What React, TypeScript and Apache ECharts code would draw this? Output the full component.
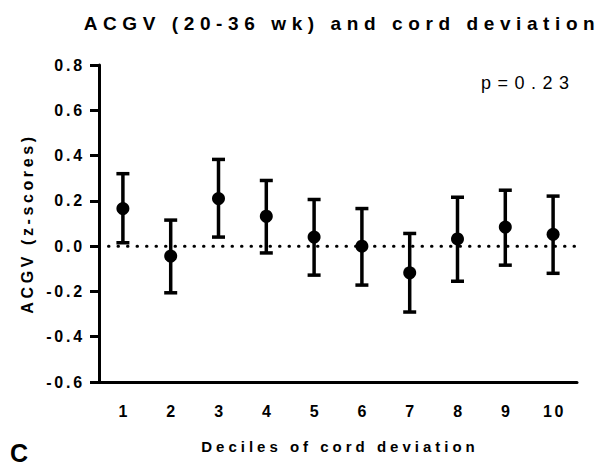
import React, { useEffect, useRef } from "react";
import * as echarts from "echarts";

// Deciles of cord deviation and ACGV (z-scores): mean with error bar limits
const deciles = ["1", "2", "3", "4", "5", "6", "7", "8", "9", "10"];
const means = [0.166, -0.044, 0.21, 0.132, 0.04, 0.0, -0.118, 0.032, 0.084, 0.052];
const upper = [0.32, 0.115, 0.383, 0.29, 0.206, 0.166, 0.056, 0.216, 0.247, 0.221];
const lower = [0.015, -0.206, 0.04, -0.03, -0.128, -0.172, -0.291, -0.155, -0.084, -0.12];
const referenceLine = 0;

const titleText = "ACGV (20-36 wk) and cord deviation";
const yName = "ACGV (z-scores)";
const xName = "Deciles of cord deviation";
const pText = "p=0.23";
const panelText = "C";

const FONT = "'Liberation Sans', Arial, Helvetica, sans-serif";

// letter spacing applied to the rendered SVG texts
function spacingFor(t: string): number {
  if (t === titleText) return 5.6;
  if (t === yName) return 3.6;
  if (t === xName) return 4;
  if (t === pText) return 6.5;
  if (t === panelText) return 0;
  return 2.8;
}

export default function App() {
  const ref = useRef<HTMLDivElement>(null);

  useEffect(() => {
    if (!ref.current) return;
    const chart = echarts.init(ref.current, undefined, { renderer: "svg" });

    const option = {
      animation: false,
      backgroundColor: "#fff",
      textStyle: { fontFamily: FONT },
      title: {
        text: titleText,
        left: 337,
        top: 9,
        textAlign: "center",
        textStyle: { fontFamily: FONT, fontSize: 19, fontWeight: "bold", color: "#000" },
      },
      grid: { left: 99, right: 26, top: 65, bottom: 83, containLabel: false },
      xAxis: {
        type: "category",
        data: deciles,
        boundaryGap: true,
        name: xName,
        nameLocation: "middle",
        nameGap: 57,
        nameTextStyle: { fontFamily: FONT, fontSize: 15, fontWeight: "bold", color: "#000", padding: [0, 0, 0, 4] },
        axisLine: { onZero: false, lineStyle: { color: "#000", width: 3 } },
        axisTick: { alignWithLabel: true, length: 8, lineStyle: { color: "#000", width: 3 } },
        axisLabel: { margin: 21, fontFamily: FONT, fontSize: 16, fontWeight: "bold", color: "#000", padding: [0, 0, 0, 3] },
        splitLine: { show: false },
      },
      yAxis: {
        type: "value",
        min: -0.6,
        max: 0.8,
        interval: 0.2,
        name: yName,
        nameLocation: "middle",
        nameGap: 64,
        nameRotate: 90,
        nameTextStyle: { fontFamily: FONT, fontSize: 16, fontWeight: "bold", color: "#000" },
        axisLine: { show: true, onZero: false, lineStyle: { color: "#000", width: 3 } },
        axisTick: { show: true, length: 9, lineStyle: { color: "#000", width: 3 } },
        axisLabel: {
          margin: 14,
          fontFamily: FONT,
          fontSize: 16,
          fontWeight: "bold",
          color: "#000",
          formatter: (v: number) => (Math.abs(v) < 1e-9 ? "0.0" : v.toFixed(1)),
        },
        splitLine: { show: false },
      },
      graphic: [
        {
          type: "text",
          left: 481,
          top: 74,
          style: { text: pText, fontFamily: FONT, fontSize: 18, fill: "#000" },
        },
        {
          type: "text",
          left: 10,
          top: 440,
          style: { text: panelText, fontFamily: FONT, fontSize: 25, fontWeight: "bold", fill: "#000" },
        },
      ],
      series: [
        {
          // dotted reference line at zero
          type: "custom",
          name: "reference",
          data: [[0, referenceLine]],
          z: 1,
          silent: true,
          renderItem: (params: any, api: any) => {
            const cs = params.coordSys;
            const y = api.coord([api.value(0), api.value(1)])[1];
            return {
              type: "line",
              shape: { x1: cs.x, y1: y, x2: cs.x + cs.width, y2: y },
              style: { stroke: "#000", lineWidth: 3, lineDash: [0.5, 9], lineCap: "round" },
            };
          },
        },
        {
          type: "custom",
          name: "range",
          data: deciles.map((_, i) => [i, upper[i], lower[i]]),
          z: 2,
          renderItem: (params: any, api: any) => {
            const idx = api.value(0);
            const hi = api.coord([idx, api.value(1)]);
            const lo = api.coord([idx, api.value(2)]);
            const cap = 6.5;
            const st = { stroke: "#000", lineWidth: 3.5 };
            return {
              type: "group",
              children: [
                { type: "line", shape: { x1: hi[0], y1: hi[1], x2: lo[0], y2: lo[1] }, style: st },
                { type: "line", shape: { x1: hi[0] - cap, y1: hi[1], x2: hi[0] + cap, y2: hi[1] }, style: st },
                { type: "line", shape: { x1: lo[0] - cap, y1: lo[1], x2: lo[0] + cap, y2: lo[1] }, style: st },
              ],
            };
          },
        },
        {
          type: "scatter",
          name: "mean",
          data: means,
          symbol: "circle",
          symbolSize: 13,
          itemStyle: { color: "#000", opacity: 1 },
          z: 3,
        },
      ],
    };

    chart.setOption(option as any);

    const applySpacing = () => {
      if (!ref.current) return;
      ref.current.querySelectorAll("text").forEach((el) => {
        const t = (el.textContent || "").trim();
        el.setAttribute("letter-spacing", String(spacingFor(t)));
      });
    };
    applySpacing();
    chart.on("finished", applySpacing);

    return () => {
      chart.dispose();
    };
  }, []);

  return <div ref={ref} style={{ width: 603, height: 465, position: "absolute", left: 0, top: 0 }} />;
}
